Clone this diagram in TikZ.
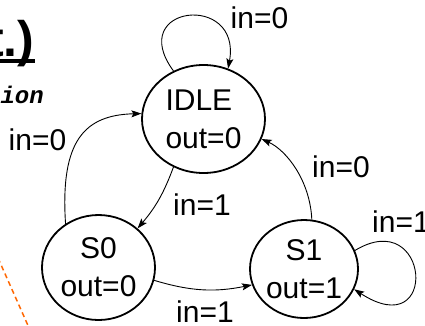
\documentclass[tikz,border=0pt]{standalone}
\usepackage{fontspec}
\setmainfont{Liberation Sans}
\newfontfamily\monofont{Liberation Mono}
\usetikzlibrary{shapes.geometric,arrows.meta}
\definecolor{dashorange}{RGB}{255,102,0}
\begin{document}
\begin{tikzpicture}[x=1pt,y=-1pt,
  state/.style={draw, ellipse, line width=1.8pt, inner sep=0pt, font=\fontsize{30}{38}\selectfont},
  conn/.style={line width=0.9pt, -{Stealth[length=10pt,width=7pt,inset=2pt]}},
  lbl/.style={anchor=base, inner sep=0pt, font=\fontsize{30}{36}\selectfont}]
\useasboundingbox (0,0) rectangle (425,325);
\clip (0,0) rectangle (425,325);
% title fragments
\node[anchor=base west, inner sep=0pt, font=\fontsize{50}{60}\selectfont\bfseries] (title) at (-13,56) {t.)};
\draw[line width=3.5pt] ([yshift=-5pt]title.base west) -- ([yshift=-5pt]title.base east);
\node[anchor=base east, inner sep=0pt, font=\monofont\bfseries\itshape\fontsize{24}{28}\selectfont] (sub) at (44,103) {tion};
\draw[dashorange, line width=1.5pt, dash pattern=on 5pt off 3.5pt] (-2,258) -- (30,330);
% states
\node[state, minimum width=123pt, minimum height=108pt, align=left] (idle) at (203.5,119) {IDLE\\out=0};
\node[state, minimum width=113pt, minimum height=105pt, align=center] (s0) at (98.5,267.5) {S0\\out=0};
\node[state, minimum width=108pt, minimum height=98pt, align=center] (s1) at (304,269) {S1\\out=1};
% transitions
\draw[conn] (idle.122) .. controls (125,5) and (242,-8) .. (idle.64);
\draw[conn] (idle.238) to[bend left=10] (s0.45);
\draw[conn] (s0.127) .. controls (60,140) and (85,115) .. (idle.175);
\draw[conn] (s0.347) to[bend right=14] (s1.197);
\draw[conn] (s1.81) .. controls (310,180) and (286,150) .. (idle.341);
\draw[conn] (s1.20) .. controls (430,205) and (440,345) .. (s1.338);
% labels
\node[lbl] (l1) at (259.5,28) {in=0};
\node[lbl] (l2) at (37.5,150) {in=0};
\node[lbl] (l3) at (202,215) {in=1};
\node[lbl] (l4) at (205,322) {in=1};
\node[lbl] (l5) at (341,177) {in=0};
\node[lbl] (l6) at (401,232) {in=1};
\end{tikzpicture}
\end{document}
